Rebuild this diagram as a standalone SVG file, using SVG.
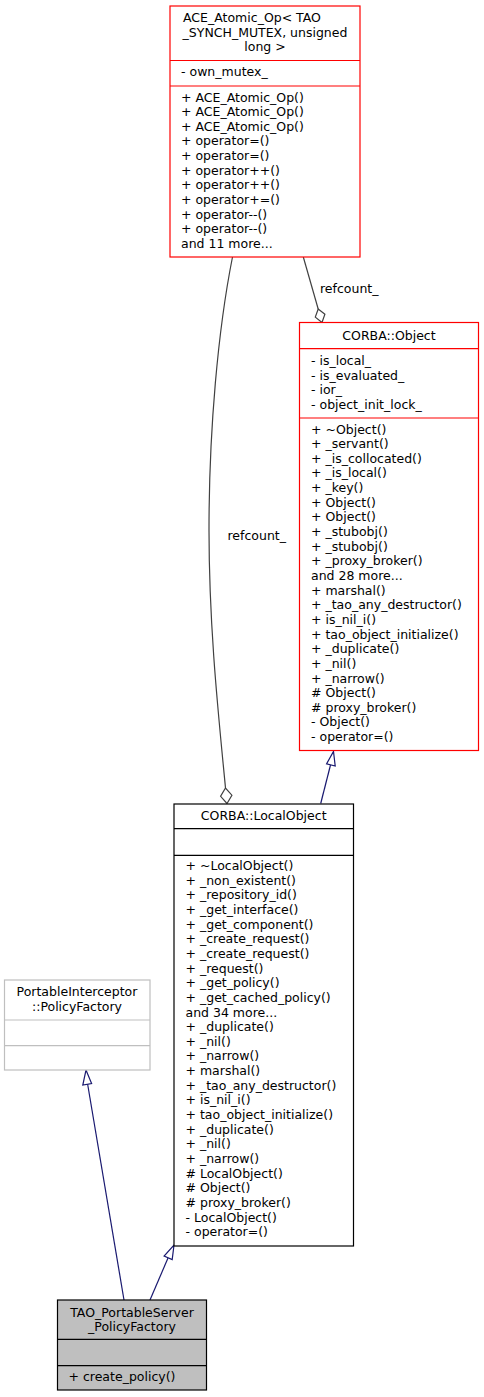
<svg xmlns="http://www.w3.org/2000/svg" width="484" height="1397" viewBox="0 0 484 1397">
<style>
text{font-family:"DejaVu Sans","Liberation Sans",sans-serif;font-size:12.5px;fill:#000}
.c{text-anchor:middle}
.red{fill:#fff;stroke:#ff0000;stroke-width:1.2}
.blk{fill:#fff;stroke:#000;stroke-width:1.2}
.gry{fill:#fff;stroke:#bfbfbf;stroke-width:1.2}
.sel{fill:#bfbfbf;stroke:#000;stroke-width:1.2}
.inh{fill:none;stroke:#191970;stroke-width:1.2}
.inhh{fill:#fff;stroke:#191970;stroke-width:1.2}
.agg{fill:none;stroke:#404040;stroke-width:1.2}
.aggh{fill:#fff;stroke:#404040;stroke-width:1.2}
</style>
<rect width="484" height="1397" fill="#fff"/>

<g id="connectors">
  <!-- PolicyFactory inheritance -->
  <path class="inh" d="M124,1300 L87.6,1084"/>
  <polygon class="inhh" points="86,1070 91.6,1083.5 82.8,1085"/>
  <!-- LocalObject inheritance -->
  <path class="inh" d="M150,1300 L168,1258"/>
  <polygon class="inhh" points="174,1245 172.2,1259.6 164.1,1256"/>
  <!-- CORBA::Object inheritance -->
  <path class="inh" d="M320.7,803.5 L330.5,765"/>
  <polygon class="inhh" points="333.5,751.5 335.2,766 326.6,763.8"/>
  <!-- refcount_ to LocalObject -->
  <path class="agg" d="M232.5,257 C218,330 209,430 209,530 C209,630 219,720 225.5,788"/>
  <polygon class="aggh" points="227,803.5 220.6,796.3 225.5,788 231.9,795.2"/>
  <text x="227.5" y="540">refcount_</text>
  <!-- refcount_ to CORBA::Object -->
  <path class="agg" d="M303.3,257 L318.2,309"/>
  <polygon class="aggh" points="322,322.5 315.3,317.1 318.2,309 324.9,314.3"/>
  <text x="320" y="293">refcount_</text>
</g>

<g id="node_ace_atomic_op">
  <rect class="red" x="170" y="6" width="190" height="251"/>
  <line class="red" x1="170" y1="60.5" x2="360" y2="60.5"/>
  <line class="red" x1="170" y1="86" x2="360" y2="86"/>
  <text class="c" x="252" y="22">ACE_Atomic_Op&lt; TAO</text>
  <text class="c" x="265" y="36.6">_SYNCH_MUTEX, unsigned</text>
  <text class="c" x="265" y="51.2">long &gt;</text>
  <text x="181" y="76">- own_mutex_</text>
  <text x="181" y="101.5">+ ACE_Atomic_Op()<tspan x="181" dy="14.65">+ ACE_Atomic_Op()</tspan><tspan x="181" dy="14.65">+ ACE_Atomic_Op()</tspan><tspan x="181" dy="14.65">+ operator=()</tspan><tspan x="181" dy="14.65">+ operator=()</tspan><tspan x="181" dy="14.65">+ operator++()</tspan><tspan x="181" dy="14.65">+ operator++()</tspan><tspan x="181" dy="14.65">+ operator+=()</tspan><tspan x="181" dy="14.65">+ operator--()</tspan><tspan x="181" dy="14.65">+ operator--()</tspan><tspan x="181" dy="14.65">and 11 more...</tspan></text>
</g>

<g id="node_corba_object">
  <rect class="red" x="299.5" y="322.5" width="179" height="428"/>
  <line class="red" x1="299.5" y1="348.7" x2="478.5" y2="348.7"/>
  <line class="red" x1="299.5" y1="418" x2="478.5" y2="418"/>
  <text class="c" x="389" y="339.5">CORBA::Object</text>
  <text x="311" y="365">- is_local_<tspan x="311" dy="14.65">- is_evaluated_</tspan><tspan x="311" dy="14.65">- ior_</tspan><tspan x="311" dy="14.65">- object_init_lock_</tspan></text>
  <text x="311" y="433.5">+ ~Object()<tspan x="311" dy="14.65">+ _servant()</tspan><tspan x="311" dy="14.65">+ _is_collocated()</tspan><tspan x="311" dy="14.65">+ _is_local()</tspan><tspan x="311" dy="14.65">+ _key()</tspan><tspan x="311" dy="14.65">+ Object()</tspan><tspan x="311" dy="14.65">+ Object()</tspan><tspan x="311" dy="14.65">+ _stubobj()</tspan><tspan x="311" dy="14.65">+ _stubobj()</tspan><tspan x="311" dy="14.65">+ _proxy_broker()</tspan><tspan x="311" dy="14.65">and 28 more...</tspan><tspan x="311" dy="14.65">+ marshal()</tspan><tspan x="311" dy="14.65">+ _tao_any_destructor()</tspan><tspan x="311" dy="14.65">+ is_nil_i()</tspan><tspan x="311" dy="14.65">+ tao_object_initialize()</tspan><tspan x="311" dy="14.65">+ _duplicate()</tspan><tspan x="311" dy="14.65">+ _nil()</tspan><tspan x="311" dy="14.65">+ _narrow()</tspan><tspan x="311" dy="14.65"># Object()</tspan><tspan x="311" dy="14.65"># proxy_broker()</tspan><tspan x="311" dy="14.65">- Object()</tspan><tspan x="311" dy="14.65">- operator=()</tspan></text>
</g>

<g id="node_corba_localobject">
  <rect class="blk" x="174" y="804" width="179.5" height="442"/>
  <line class="blk" x1="174" y1="828.7" x2="353.5" y2="828.7"/>
  <line class="blk" x1="174" y1="855.3" x2="353.5" y2="855.3"/>
  <text class="c" x="263.7" y="820">CORBA::LocalObject</text>
  <text x="185.5" y="870">+ ~LocalObject()<tspan x="185.5" dy="14.65">+ _non_existent()</tspan><tspan x="185.5" dy="14.65">+ _repository_id()</tspan><tspan x="185.5" dy="14.65">+ _get_interface()</tspan><tspan x="185.5" dy="14.65">+ _get_component()</tspan><tspan x="185.5" dy="14.65">+ _create_request()</tspan><tspan x="185.5" dy="14.65">+ _create_request()</tspan><tspan x="185.5" dy="14.65">+ _request()</tspan><tspan x="185.5" dy="14.65">+ _get_policy()</tspan><tspan x="185.5" dy="14.65">+ _get_cached_policy()</tspan><tspan x="185.5" dy="14.65">and 34 more...</tspan><tspan x="185.5" dy="14.65">+ _duplicate()</tspan><tspan x="185.5" dy="14.65">+ _nil()</tspan><tspan x="185.5" dy="14.65">+ _narrow()</tspan><tspan x="185.5" dy="14.65">+ marshal()</tspan><tspan x="185.5" dy="14.65">+ _tao_any_destructor()</tspan><tspan x="185.5" dy="14.65">+ is_nil_i()</tspan><tspan x="185.5" dy="14.65">+ tao_object_initialize()</tspan><tspan x="185.5" dy="14.65">+ _duplicate()</tspan><tspan x="185.5" dy="14.65">+ _nil()</tspan><tspan x="185.5" dy="14.65">+ _narrow()</tspan><tspan x="185.5" dy="14.65"># LocalObject()</tspan><tspan x="185.5" dy="14.65"># Object()</tspan><tspan x="185.5" dy="14.65"># proxy_broker()</tspan><tspan x="185.5" dy="14.65">- LocalObject()</tspan><tspan x="185.5" dy="14.65">- operator=()</tspan></text>
</g>

<g id="node_policyfactory">
  <rect class="gry" x="4.5" y="980" width="145.5" height="90"/>
  <line class="gry" x1="4.5" y1="1020" x2="150" y2="1020"/>
  <line class="gry" x1="4.5" y1="1045.7" x2="150" y2="1045.7"/>
  <text class="c" x="77" y="996.3">PortableInterceptor</text>
  <text class="c" x="77" y="1010.9">::PolicyFactory</text>
</g>

<g id="node_tao_portableserver_policyfactory">
  <rect class="sel" x="57.5" y="1300" width="149" height="90"/>
  <line class="sel" x1="57.5" y1="1339.3" x2="206.5" y2="1339.3"/>
  <line class="sel" x1="57.5" y1="1365.7" x2="206.5" y2="1365.7"/>
  <text class="c" x="132" y="1316.7">TAO_PortableServer</text>
  <text class="c" x="132" y="1331.3">_PolicyFactory</text>
  <text x="68.5" y="1380.7">+ create_policy()</text>
</g>
</svg>
